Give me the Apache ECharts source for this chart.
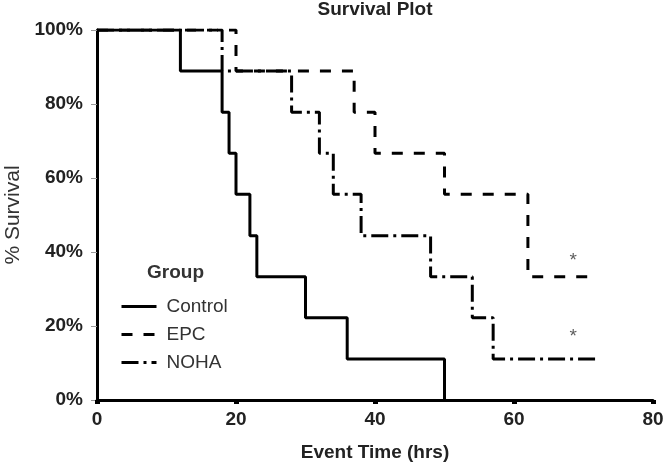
<!DOCTYPE html>
<html>
<head>
<meta charset="utf-8">
<script src="https://cdn.jsdelivr.net/npm/echarts@6/dist/echarts.min.js"></script>
<style>html,body{margin:0;padding:0;background:#fff}#c{width:666px;height:465px}</style>
</head>
<body>
<div id="c"></div>
<script>
// Data (event times in hrs, survival in %)
var controlTimes    = [0, 12, 18, 19, 20, 22, 23, 30, 36, 50];
var controlSurvival = [100, 88.9, 77.8, 66.7, 55.6, 44.4, 33.3, 22.2, 11.1, 0];
var epcTimes        = [0, 20, 37, 40, 50, 62, 72];
var epcSurvival     = [100, 88.9, 77.8, 66.7, 55.6, 33.3, 33.3];
var nohaTimes       = [0, 18, 28, 32, 34, 38, 48, 54, 57, 72];
var nohaSurvival    = [100, 88.9, 77.8, 66.7, 55.6, 44.4, 33.3, 22.2, 11.1, 11.1];
var asteriskX       = [68.5, 68.5];
var asteriskY       = [37.6, 17.2];
var groupNames      = ['Control', 'EPC', 'NOHA'];

function pairs(xs, ys){ return xs.map(function(x,i){ return [x, ys[i]]; }); }

var FONT = '"Liberation Sans", Arial, sans-serif';
var chart = echarts.init(document.getElementById('c'), null, {renderer:'canvas'});
chart.setOption({
  animation:false,
  backgroundColor:'#fff',
  title:{
    text:'Survival Plot', left:375, textAlign:'center', top:0, padding:0,
    textStyle:{fontFamily:FONT, fontSize:19, fontWeight:'bold', color:'#222'}
  },
  grid:{left:97, right:13, top:30, bottom:65, containLabel:false, outerBoundsMode:'none'},
  legend:{
    orient:'vertical', left:115, top:292, itemWidth:35, itemHeight:14, itemGap:9,
    data:groupNames,
    itemStyle:{opacity:0},
    lineStyle:{width:3},
    textStyle:{fontFamily:FONT, fontSize:19, lineHeight:19, color:'#333', padding:[0,0,0,5]}
  },
  graphic:[{
    type:'text', left:147, top:263,
    style:{text:'Group', font:'bold 19px "Liberation Sans", Arial, sans-serif', fill:'#333'}
  }],
  xAxis:{
    type:'value', min:0, max:80, interval:20,
    name:'Event Time (hrs)', nameLocation:'middle', nameGap:43,
    nameTextStyle:{fontFamily:FONT, fontSize:19, fontWeight:'bold', color:'#222'},
    axisLine:{lineStyle:{color:'#000', width:3}},
    axisTick:{show:true, length:4, lineStyle:{color:'#000', width:5}},
    axisLabel:{fontFamily:FONT, fontSize:19, fontWeight:'bold', color:'#222', margin:10},
    splitLine:{show:false}
  },
  yAxis:{
    type:'value', min:0, max:100, interval:20,
    name:'% Survival', nameLocation:'middle', nameGap:73,
    nameTextStyle:{fontFamily:FONT, fontSize:21, color:'#333'},
    axisLine:{show:true, lineStyle:{color:'#000', width:3}},
    axisTick:{show:true, length:6, lineStyle:{color:'#999', width:1}},
    axisLabel:{fontFamily:FONT, fontSize:19, fontWeight:'bold', color:'#222', margin:14,
      formatter:function(v){ return v + '%'; }},
    splitLine:{show:false}
  },
  series:[
    {name:'Control', type:'line', step:'end', symbol:'none', data:pairs(controlTimes, controlSurvival),
     lineStyle:{color:'#000', width:3, type:'solid'}, itemStyle:{color:'#000'}},
    {name:'EPC', type:'line', step:'end', symbol:'none', data:pairs(epcTimes, epcSurvival),
     lineStyle:{color:'#000', width:3, type:[11,11]}, itemStyle:{color:'#000'}},
    {name:'NOHA', type:'line', step:'end', symbol:'none', data:pairs(nohaTimes, nohaSurvival),
     lineStyle:{color:'#000', width:3, type:[17,5,3,5]}, itemStyle:{color:'#000'}},
    {name:'sig', type:'scatter', symbolSize:0, data:pairs(asteriskX, asteriskY), silent:true,
     label:{show:true, position:'inside', formatter:'*', fontFamily:FONT, fontSize:19, color:'#333'}}
  ]
});
</script>
</body>
</html>
